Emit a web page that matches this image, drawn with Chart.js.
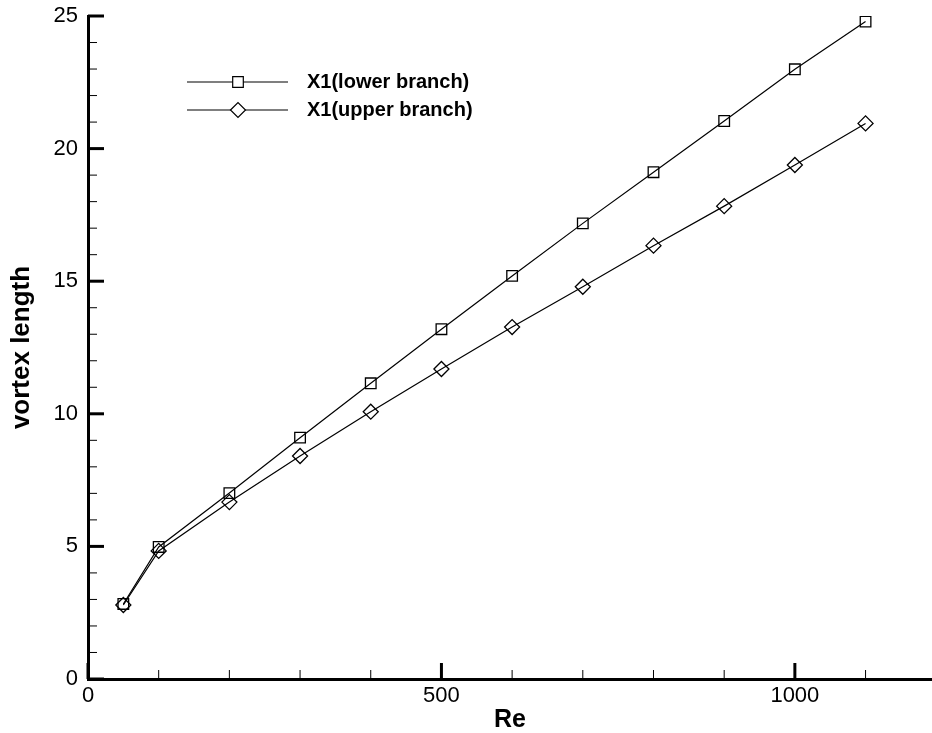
<!DOCTYPE html>
<html>
<head>
<meta charset="utf-8">
<script src="https://cdn.jsdelivr.net/npm/chart.js"></script>
<style>
  html, body { margin:0; padding:0; background:#fff; }
  #wrap { width:932px; height:733px; }
</style>
</head>
<body>
<div id="wrap"><canvas id="chart" width="932" height="733"></canvas></div>
<script>
// data
const reValues = [50, 100, 200, 300, 400, 500, 600, 700, 800, 900, 1000, 1100];
const lowerBranch = [2.83, 4.98, 7.01, 9.1, 11.15, 13.19, 15.2, 17.18, 19.11, 21.04, 22.99, 24.79];
const upperBranch = [2.79, 4.83, 6.67, 8.41, 10.08, 11.69, 13.27, 14.79, 16.34, 17.83, 19.38, 20.95];

// axis ticks
const xTicks = [0, 100, 200, 300, 400, 500, 600, 700, 800, 900, 1000, 1100];
const xLabels = [0, 500, 1000];
const yTicks = [0,1,2,3,4,5,6,7,8,9,10,11,12,13,14,15,16,17,18,19,20,21,22,23,24,25];
const yLabels = [0, 5, 10, 15, 20, 25];

const FONT = 'Liberation Sans, Arial, Helvetica, sans-serif';

function toPoints(xs, ys) {
  return xs.map((x, i) => ({ x: x, y: ys[i] }));
}

// inward tick marks, major longer + thicker
const tickMarks = {
  id: 'tickMarks',
  afterDraw(chart) {
    const ctx = chart.ctx;
    const xs = chart.scales.x, ys = chart.scales.y;
    const area = chart.chartArea;
    ctx.save();
    ctx.strokeStyle = '#000';
    xTicks.forEach(v => {
      const major = xLabels.includes(v);
      const px = xs.getPixelForValue(v);
      ctx.lineWidth = major ? 3 : 1;
      ctx.beginPath();
      ctx.moveTo(px, area.bottom);
      ctx.lineTo(px, area.bottom - (major ? 16 : 9));
      ctx.stroke();
    });
    yTicks.forEach(v => {
      const major = yLabels.includes(v);
      const py = ys.getPixelForValue(v);
      ctx.lineWidth = major ? 3 : 1;
      ctx.beginPath();
      ctx.moveTo(area.left, py);
      ctx.lineTo(area.left + (major ? 16 : 9), py);
      ctx.stroke();
    });
    ctx.restore();
  }
};

// legend box in upper left, like the original
const boxLegend = {
  id: 'boxLegend',
  afterDraw(chart) {
    const ctx = chart.ctx;
    ctx.save();
    chart.data.datasets.forEach((ds, i) => {
      const y = 82 + i * 28;
      ctx.strokeStyle = '#000';
      ctx.lineWidth = 1.2;
      ctx.beginPath();
      ctx.moveTo(187, y);
      ctx.lineTo(288, y);
      ctx.stroke();
      ctx.fillStyle = '#fff';
      Chart.helpers.drawPoint(ctx, {
        pointStyle: ds.pointStyle,
        radius: ds.pointRadius,
        borderWidth: ds.pointBorderWidth
      }, 238, y);
      ctx.fillStyle = '#000';
      ctx.font = 'bold 20px ' + FONT;
      ctx.textBaseline = 'middle';
      ctx.textAlign = 'left';
      ctx.fillText(ds.label, 307, y);
    });
    ctx.restore();
  }
};

const ctx = document.getElementById('chart').getContext('2d');
const chart = new Chart(ctx, {
  type: 'line',
  data: {
    datasets: [
      {
        label: 'X1(lower branch)',
        data: toPoints(reValues, lowerBranch),
        borderColor: '#000', borderWidth: 1.2,
        pointStyle: 'rect', pointRadius: 7.5, pointBorderWidth: 1.3,
        pointBorderColor: '#000', pointBackgroundColor: 'rgba(0,0,0,0)',
        tension: 0
      },
      {
        label: 'X1(upper branch)',
        data: toPoints(reValues, upperBranch),
        borderColor: '#000', borderWidth: 1.2,
        pointStyle: 'rectRot', pointRadius: 7.5, pointBorderWidth: 1.3,
        pointBorderColor: '#000', pointBackgroundColor: 'rgba(0,0,0,0)',
        tension: 0
      }
    ]
  },
  options: {
    responsive: false,
    animation: false,
    layout: { autoPadding: false, padding: { top: 16, right: 0, left: 0, bottom: 0 } },
    plugins: { legend: { display: false }, tooltip: { enabled: false } },
    scales: {
      x: {
        type: 'linear', min: 0, max: 1194,
        afterBuildTicks: s => { s.ticks = xTicks.map(v => ({ value: v })); },
        afterFit: s => { s.height = 54; s.paddingLeft = 0; s.paddingRight = 0; },
        grid: { display: false, drawTicks: false },
        border: { display: true, color: '#000', width: 3 },
        ticks: {
          autoSkip: false, maxRotation: 0, padding: 4, color: '#000',
          font: { family: FONT, size: 22 },
          callback: v => xLabels.includes(v) ? String(v) : ''
        },
        title: {
          display: true, text: 'Re', color: '#000',
          font: { family: FONT, size: 25, weight: 'bold', lineHeight: 1 },
          padding: { top: 0, bottom: 0 }
        }
      },
      y: {
        type: 'linear', min: 0, max: 25,
        afterBuildTicks: s => { s.ticks = yTicks.map(v => ({ value: v })); },
        afterFit: s => { s.width = 88; s.paddingTop = 0; s.paddingBottom = 0; },
        grid: { display: false, drawTicks: false },
        border: { display: true, color: '#000', width: 3 },
        ticks: {
          autoSkip: false, padding: 10, color: '#000',
          font: { family: FONT, size: 22 },
          callback: v => yLabels.includes(v) ? String(v) : ''
        },
        title: {
          display: true, text: 'vortex length', color: '#000',
          font: { family: FONT, size: 26, weight: 'bold', lineHeight: 1 },
          padding: { top: 9, bottom: 0 }
        }
      }
    }
  },
  plugins: [tickMarks, boxLegend]
});
</script>
</body>
</html>
